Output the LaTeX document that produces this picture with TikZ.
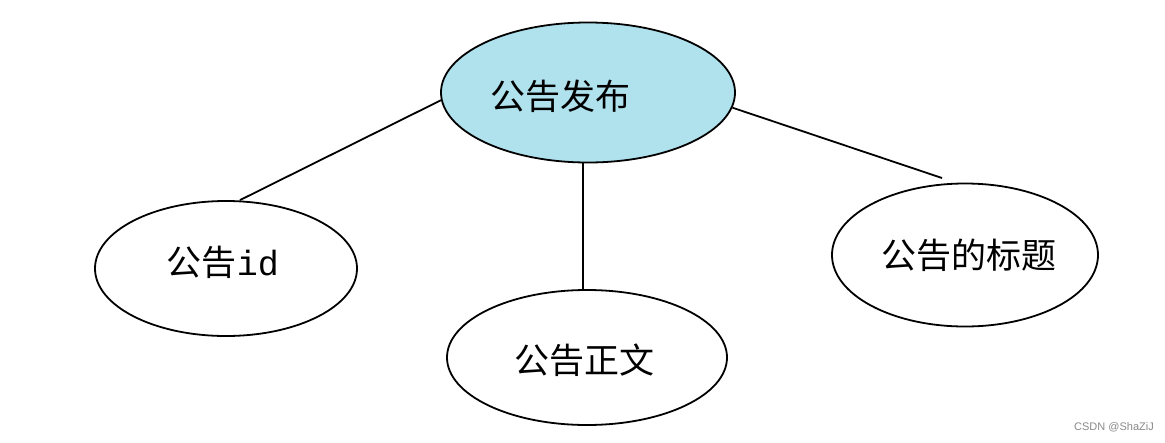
\documentclass[tikz,border=0pt]{standalone}
\usepackage{fontspec}
\newfontfamily\cjk{Noto Sans CJK SC}
\newfontfamily\latmono{Liberation Mono}
\setmainfont{Liberation Sans}
\usetikzlibrary{shapes.geometric}
\definecolor{entfill}{HTML}{B0E2EE}
\definecolor{wm}{HTML}{8A8A8A}
\tikzset{
  ent/.style={draw=black, line width=1.8pt, ellipse, inner sep=0pt},
  lbl/.style={font=\cjk\fontsize{35}{40}\selectfont, inner sep=0pt},
  conn/.style={draw=black, line width=1.8pt},
}
\begin{document}
\begin{tikzpicture}[x=1pt,y=-1pt]
\useasboundingbox (0,0) rectangle (1165,442);
\fill[white] (0,0) rectangle (1165,442);
\node[ent, fill=entfill, minimum width=294pt, minimum height=140pt] (top) at (588,92.5) {};
\node[ent, fill=white, minimum width=262pt, minimum height=135pt] (id) at (226,268.5) {};
\node[ent, fill=white, minimum width=280pt, minimum height=135pt] (body) at (587,357.5) {};
\node[ent, fill=white, minimum width=266pt, minimum height=143pt] (title) at (965,255) {};
\node[lbl] (toplbl) at (560,96) {公告发布};
\node[lbl] (idlbl) at (223,262) {公告{\latmono id}};
\node[lbl] (bodylbl) at (584,360) {公告正文};
\node[lbl] (titlelbl) at (969,255) {公告的标题};
\coordinate (titleend) at (942,178);
\draw[conn] (top.183) -- ([xshift=14pt]id.north);
\draw[conn] ([xshift=-5pt]top.south) -- ([xshift=-5pt]top.south |- body.north);
\draw[conn] (top.-6) -- (titleend);
\node[font=\fontsize{11}{13}\selectfont, text=wm, inner sep=0pt] (wmk) at (1114,427) {CSDN @ShaZiJ};
\end{tikzpicture}
\end{document}
